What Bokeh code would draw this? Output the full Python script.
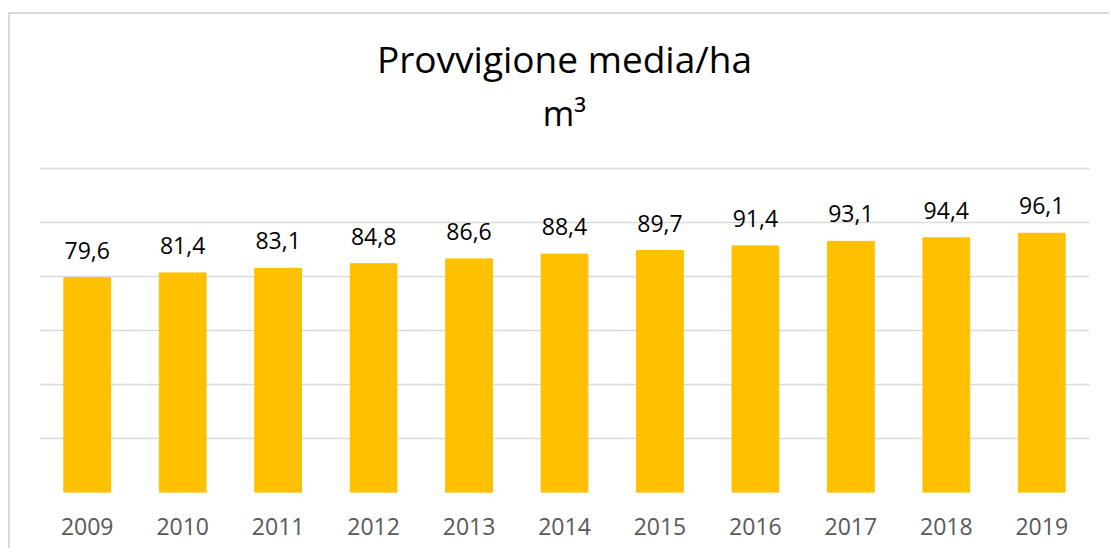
from bokeh.plotting import figure
from bokeh.models import ColumnDataSource, LabelSet, FixedTicker
from bokeh.core.properties import value
from bokeh.embed import file_html
from bokeh.resources import INLINE

years = ["2009", "2010", "2011", "2012", "2013", "2014", "2015", "2016", "2017", "2018", "2019"]
values = [79.6, 81.4, 83.1, 84.8, 86.6, 88.4, 89.7, 91.4, 93.1, 94.4, 96.1]
labels = [f"{v:.1f}".replace(".", ",") for v in values]
y_ticks = [0, 20, 40, 60, 80, 100, 120]
title_main = "Provvigione media/ha"
title_unit = "m³"

src = ColumnDataSource(dict(year=years, value=values, label=labels))

FONT = "Open Sans"

# layout constants (pixels)
FRAME_H = 478
PX_PER_UNIT = 2.6975
Y_END = FRAME_H / PX_PER_UNIT
CENTER_CAT = years[len(years) // 2]

p = figure(x_range=years, y_range=(0, Y_END), frame_width=1050, frame_height=FRAME_H,
           output_backend="svg", toolbar_location=None,
           min_border_left=29, min_border_right=20, min_border_top=0, min_border_bottom=56)
p.styles = {"margin-top": "12px", "margin-left": "8px",
            "border-left": "2px solid #d9d9d9", "border-top": "2px solid #d9d9d9"}
p.title.visible = False

# title lines placed in the empty upper part of the frame (screen offsets from baseline)
p.text(x=[CENTER_CAT], y=[0], text=[title_main], y_offset=-(492 - 58),
       text_align="center", text_baseline="alphabetic", text_font=value(FONT),
       text_font_size=value("37px"), text_color="#000000")
p.text(x=[CENTER_CAT], y=[0], text=[title_unit], y_offset=-(492 - 112),
       text_align="center", text_baseline="alphabetic", text_font=value(FONT),
       text_font_size=value("34px"), text_color="#000000")

p.vbar(x="year", top="value", width=0.49, source=src, color="#FFC000")

p.add_layout(LabelSet(x="year", y="value", text="label", source=src, text_align="center",
                      text_baseline="alphabetic", y_offset=19, text_font=value(FONT),
                      text_font_size=value("23px"), text_color="#000000"))

p.yaxis.visible = False
p.yaxis.ticker = FixedTicker(ticks=y_ticks)
p.ygrid.ticker = FixedTicker(ticks=y_ticks)
p.ygrid.grid_line_color = "#d9d9d9"
p.ygrid.grid_line_width = 1.5
p.xgrid.grid_line_color = None

p.xaxis.axis_line_color = None
p.xaxis.major_tick_line_color = None
p.xaxis.minor_tick_line_color = None
p.xaxis.major_label_text_font = FONT
p.xaxis.major_label_text_font_size = "23px"
p.xaxis.major_label_text_color = "#595959"
p.xaxis.major_label_standoff = 19
p.x_range.range_padding = 0
p.outline_line_color = None
p.background_fill_color = "white"
p.border_fill_color = "white"

open("out.html", "w").write(file_html(p, INLINE))
